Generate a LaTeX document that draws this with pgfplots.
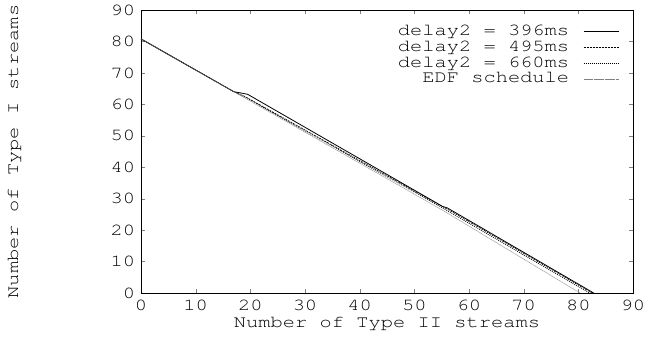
\documentclass[border=0pt]{standalone}
\usepackage{pgfplots}
\pgfplotsset{compat=1.18}
\usepackage{fontspec}
\setmainfont{TeX Gyre Cursor}[FakeStretch=1.2]
\begin{document}
\fontsize{17}{20}\selectfont
\begin{tikzpicture}
\begin{axis}[
  name=ax,
  scale only axis,
  width=492pt, height=283pt,
  xmin=0, xmax=90, ymin=0, ymax=90,
  xtick={0,10,...,90}, ytick={0,10,...,90},
  tick align=inside,
  major tick length=4pt,
  /pgf/number format/assume math mode=true,
  ticklabel style={font=\fontsize{17}{20}\selectfont},
  xticklabel style={yshift=-1pt},
  label style={font=\fontsize{17}{20}\selectfont},
  xlabel={Number of Type II streams},
  ylabel={Number of Type I streams},
  xlabel style={yshift=5pt},
  ylabel style={at={(axis description cs:-0.257,0.5)}, anchor=center},
  axis line style={line width=0.8pt},
  legend style={draw=none, fill=none, at={(0.974,0.96)}, anchor=north east,
    font=\fontsize{17}{20}\selectfont, row sep=-1pt, column sep=12pt, inner sep=1pt},
  legend cell align=right,
  legend plot pos=right,
  legend image code/.code={\draw[#1] (0pt,0pt) -- (35pt,0pt);},
]
\addplot[black, line width=0.8pt] coordinates {(0,80.8) (17,64) (18,63.7) (19.5,63.2) (54.5,28.2) (55.2,27.5) (56,27.1) (82.8,0)};
\addlegendentry{delay2 = 396ms}
\addplot[black, line width=0.6pt, dash pattern=on 2pt off 1pt] coordinates {(0,80.8) (17,64) (19,62.5) (55,27.6) (56,26.7) (82.5,0)};
\addlegendentry{delay2 = 495ms}
\addplot[black, line width=0.6pt, dash pattern=on 1pt off 1pt] coordinates {(0,80.8) (17,64) (19,62.3) (55,27.2) (82,0)};
\addlegendentry{delay2 = 660ms}
\addplot[gray, line width=0.6pt, dash pattern=on 0.5pt off 0.6pt] coordinates {(0,80.8) (17,64) (19,62) (55,26.5) (80.3,0)};
\addlegendentry{EDF schedule}
\end{axis}
\pgfresetboundingbox
\path ([xshift=-141pt,yshift=-48pt]ax.south west) rectangle ([xshift=12pt,yshift=10pt]ax.north east);
\end{tikzpicture}
\end{document}
